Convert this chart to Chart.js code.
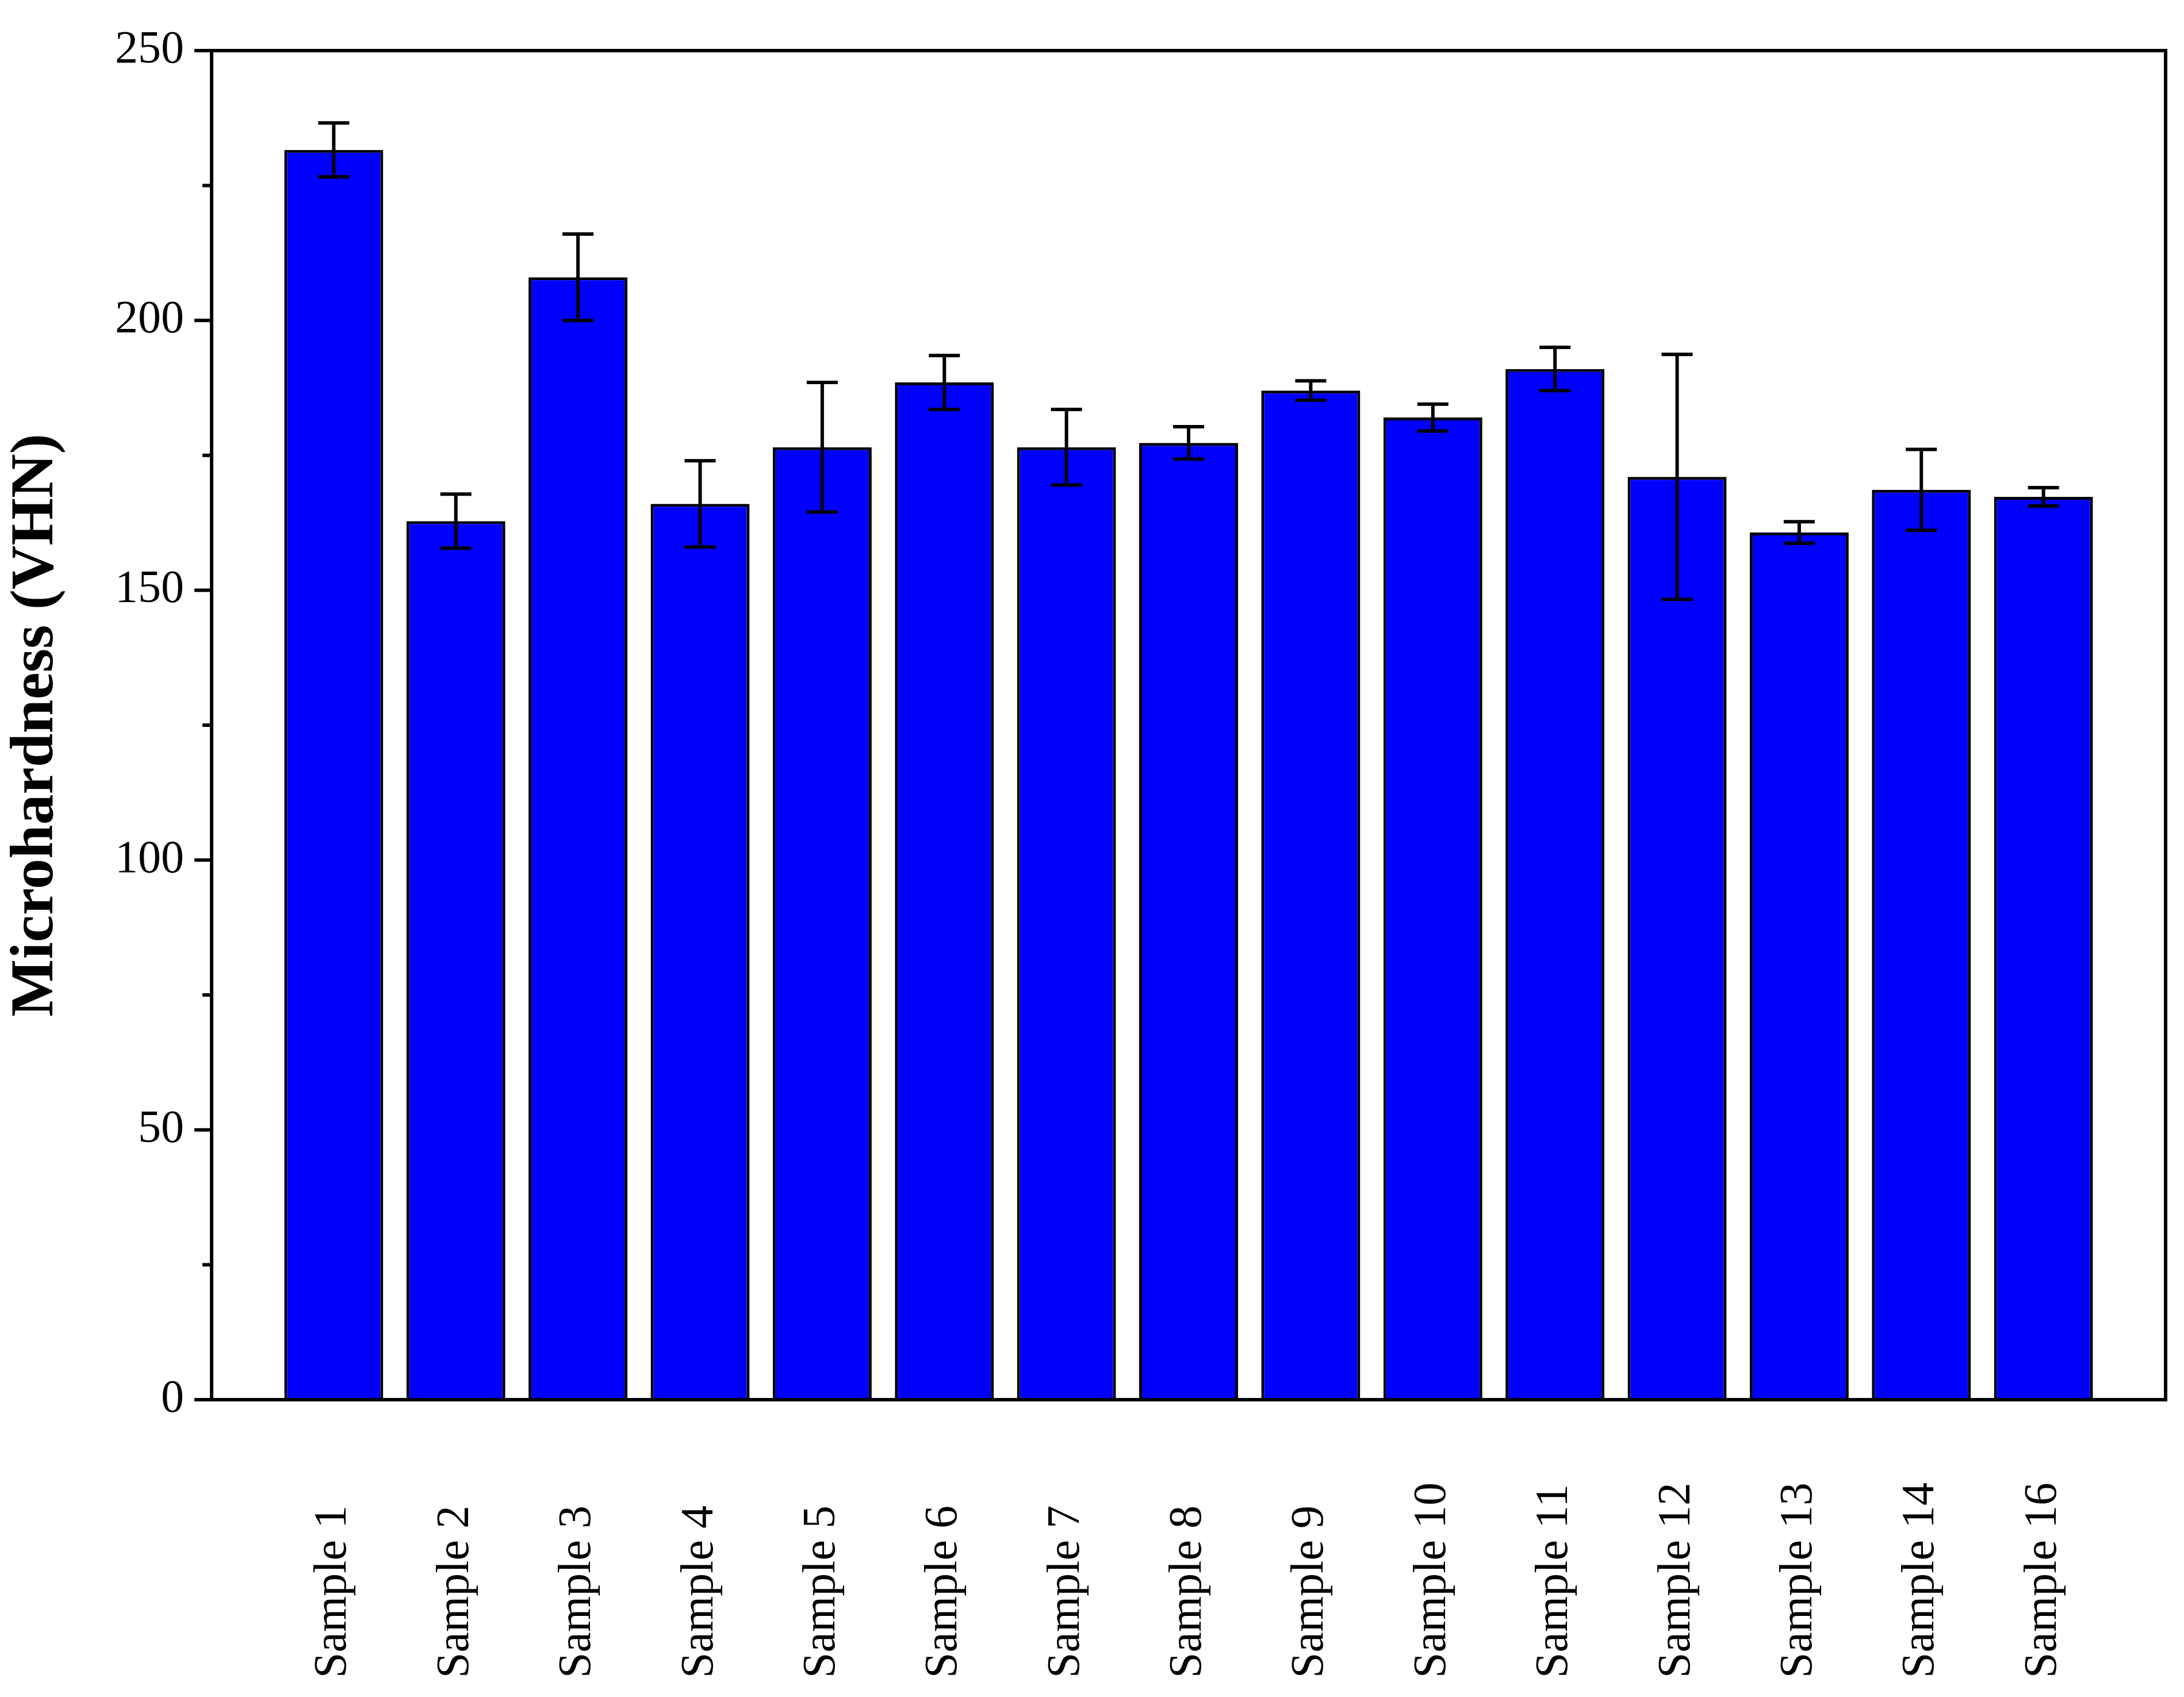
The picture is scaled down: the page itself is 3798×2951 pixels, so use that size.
<!DOCTYPE html>
<html>
<head>
<meta charset="utf-8">
<script src="https://cdn.jsdelivr.net/npm/chart.js@4"></script>
<style>
  body { margin: 0; background: #fff; }
  #wrap { width: 3798px; height: 2951px; }
</style>
</head>
<body>
<div id="wrap"><canvas id="chart"></canvas></div>
<script>
const samples = ["Sample 1", "Sample 2", "Sample 3", "Sample 4", "Sample 5", "Sample 6", "Sample 7", "Sample 8",
  "Sample 9", "Sample 10", "Sample 11", "Sample 12", "Sample 13", "Sample 14", "Sample 16"];
const hardness = [231.6, 162.8, 208, 166, 176.5, 188.5, 176.5, 177.3, 187, 182, 191, 171, 160.7, 168.6, 167.3];
const errors = [5, 5, 8, 8, 12, 5, 7, 3, 1.8, 2.5, 4, 22.7, 2, 7.5, 1.7];
const yTicks = [0, 50, 100, 150, 200, 250];

// empty slots at both ends so the bars sit one full category in from the frame
const labels = [""].concat(samples, [""]);
const values = [null].concat(hardness, [null]);
const errs = [null].concat(errors, [null]);

const FONT = "'Liberation Serif', 'Times New Roman', serif";

const extras = {
  id: "extras",
  afterDatasetsDraw(chart) {
    const ctx = chart.ctx;
    const x = chart.scales.x, y = chart.scales.y;
    const area = chart.chartArea;
    ctx.save();
    // error bars
    ctx.strokeStyle = "#000";
    ctx.lineWidth = 6;
    values.forEach((v, i) => {
      if (v === null) return;
      const cx = x.getPixelForValue(i);
      const top = y.getPixelForValue(v + errs[i]);
      const bot = y.getPixelForValue(v - errs[i]);
      ctx.beginPath();
      ctx.moveTo(cx, top); ctx.lineTo(cx, bot);
      ctx.moveTo(cx - 27, top); ctx.lineTo(cx + 27, top);
      ctx.moveTo(cx - 27, bot); ctx.lineTo(cx + 27, bot);
      ctx.stroke();
    });
    // frame
    ctx.lineWidth = 6;
    ctx.strokeRect(area.left, area.top, area.right - area.left, area.bottom - area.top);
    // y ticks, major and minor
    for (let t = 0; t <= 250; t += 25) {
      const py = y.getPixelForValue(t);
      const len = t % 50 === 0 ? 30 : 16;
      ctx.beginPath();
      ctx.moveTo(area.left, py); ctx.lineTo(area.left - len, py);
      ctx.stroke();
    }
    // rotated x labels, starting from the bottom
    ctx.fillStyle = "#000";
    ctx.font = "80px " + FONT;
    ctx.textAlign = "left";
    ctx.textBaseline = "middle";
    samples.forEach((s, i) => {
      const cx = x.getPixelForValue(i + 1);
      ctx.save();
      ctx.translate(cx, 2918);
      ctx.rotate(-Math.PI / 2);
      ctx.fillText(s, 0, 0);
      ctx.restore();
    });
    ctx.restore();
  }
};

new Chart("chart", {
  type: "bar",
  data: {
    labels: labels,
    datasets: [{
      data: values,
      backgroundColor: "#0000FF",
      borderColor: "#000",
      borderWidth: 5,
      barPercentage: 0.81,
      categoryPercentage: 1
    }]
  },
  options: {
    responsive: true,
    maintainAspectRatio: false,
    animation: false,
    devicePixelRatio: 1,
    layout: { padding: { top: 61, right: 32, left: 0, bottom: 0 } },
    plugins: { legend: { display: false }, tooltip: { enabled: false } },
    scales: {
      x: {
        offset: false,
        grid: { display: false },
        border: { display: false },
        ticks: { display: false },
        afterFit(s) { s.height = 517; }
      },
      y: {
        min: 0,
        max: 250,
        afterBuildTicks(s) { s.ticks = yTicks.map(v => ({ value: v })); },
        grid: { display: false },
        border: { display: false },
        ticks: { color: "#000", padding: 40, font: { family: FONT, size: 80 } },
        title: {
          display: true,
          text: "Microhardness (VHN)",
          color: "#000",
          padding: { top: 0, bottom: 0 },
          font: { family: FONT, size: 106, weight: "bold" }
        },
        afterFit(s) { s.width = 368; }
      }
    }
  },
  plugins: [extras]
});
</script>
</body>
</html>
